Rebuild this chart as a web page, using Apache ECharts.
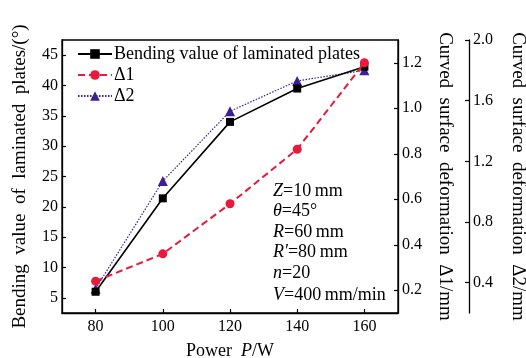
<!DOCTYPE html>
<html>
<head>
<meta charset="utf-8">
<script src="https://cdn.jsdelivr.net/npm/echarts@6/dist/echarts.min.js"></script>
<style>
  html, body { margin: 0; padding: 0; background: #fff; }
  #chart { width: 526px; height: 358px; }
</style>
</head>
<body>
<div id="chart"></div>
<script>
// Laser power (W)
const power = [80, 100, 120, 140, 160];
// Bending value of laminated plates (degrees)
const bending = [6.0, 21.4, 34.0, 39.5, 43.1];
// Curved surface deformation Δ1 (mm)
const delta1 = [0.24, 0.36, 0.58, 0.82, 1.20];
// Curved surface deformation Δ2 (mm)
const delta2 = [0.36, 1.07, 1.53, 1.73, 1.80];

// Tick values of each axis
const xTicks = [80, 100, 120, 140, 160];
const bendTicks = [5, 10, 15, 20, 25, 30, 35, 40, 45];
const d1Ticks = [0.2, 0.4, 0.6, 0.8, 1.0, 1.2];
const d2Ticks = [0.4, 0.8, 1.2, 1.6, 2.0];

// Process parameters listed inside the plot
const params = [
  ['Z', '=10\u2009mm'],
  ['\u03b8', '=45\u00b0'],
  ['R', '=60\u2009mm'],
  ["R\u2032", '=80\u2009mm'],
  ['n', '=20'],
  ['V', '=400\u2009mm/min']
];

const SERIF = '"Liberation Serif", "Times New Roman", serif';
const RED = '#e8193c';
const PURPLE = '#3c1f92';

const pairs = (ys) => power.map((p, i) => [p, ys[i]]);
const fmt1 = (v) => v.toFixed(1);

const baseAxis = {
  axisLine: { show: true, lineStyle: { color: '#000', width: 1.3 } },
  axisTick: { show: true, inside: true, length: 4, lineStyle: { color: '#000', width: 1.2 } },
  axisLabel: { color: '#000', fontFamily: SERIF, fontSize: 16, margin: 4 },
  splitLine: { show: false },
  nameTextStyle: { color: '#000', fontFamily: SERIF, fontSize: 19 }
};

const chart = echarts.init(document.getElementById('chart'), null, { renderer: 'canvas' });

chart.setOption({
  animation: false,
  backgroundColor: '#fff',
  grid: {
    left: 62, right: 128, top: 40, bottom: 45,
    outerBoundsMode: 'none',
    show: true, borderColor: '#000', borderWidth: 1.3, backgroundColor: 'transparent'
  },
  legend: {
    orient: 'vertical',
    left: 72,
    top: 40,
    itemWidth: 34,
    itemHeight: 12,
    itemGap: 3,
    textStyle: { color: '#000', fontFamily: SERIF, fontSize: 18, padding: [0, 0, 0, -3] },
    data: ['Bending value of laminated plates', '\u03941', '\u03942']
  },
  xAxis: {
    ...baseAxis,
    type: 'value',
    min: 70,
    max: 170,
    name: 'Power  {i|P}/W',
    nameLocation: 'middle',
    nameGap: 29,
    nameTextStyle: { ...baseAxis.nameTextStyle, fontSize: 18, rich: { i: { fontStyle: 'italic', fontFamily: SERIF, fontSize: 18 } } },
    axisTick: { ...baseAxis.axisTick, customValues: xTicks },
    axisLabel: { ...baseAxis.axisLabel, customValues: xTicks, margin: 6 }
  },
  yAxis: [
    {
      ...baseAxis,
      type: 'value',
      position: 'left',
      min: 2.5,
      max: 47.5,
      name: 'Bending  value  of  laminated  plates/(\u00b0)',
      nameLocation: 'middle',
      nameRotate: 90,
      nameGap: 32,
      axisTick: { ...baseAxis.axisTick, customValues: bendTicks },
      axisLabel: { ...baseAxis.axisLabel, customValues: bendTicks }
    },
    {
      ...baseAxis,
      type: 'value',
      position: 'right',
      min: 0.1,
      max: 1.3,
      name: 'Curved  surface  deformation  \u03941/mm',
      nameLocation: 'middle',
      nameRotate: -90,
      nameGap: 37,
      axisTick: { ...baseAxis.axisTick, customValues: d1Ticks },
      axisLabel: { ...baseAxis.axisLabel, customValues: d1Ticks, formatter: fmt1 }
    },
    {
      ...baseAxis,
      type: 'value',
      position: 'right',
      offset: 71,
      min: 0.2,
      max: 2.0,
      name: 'Curved  surface  deformation  \u03942/mm',
      nameLocation: 'middle',
      nameRotate: -90,
      nameGap: 39,
      axisTick: { ...baseAxis.axisTick, customValues: d2Ticks },
      axisLabel: { ...baseAxis.axisLabel, customValues: d2Ticks, formatter: fmt1 }
    }
  ],
  series: [
    {
      name: 'Bending value of laminated plates',
      type: 'line',
      yAxisIndex: 0,
      data: pairs(bending),
      symbol: 'rect',
      symbolSize: 8,
      lineStyle: { color: '#000', width: 1.6 },
      itemStyle: { color: '#000' },
      z: 3
    },
    {
      name: '\u03941',
      type: 'line',
      yAxisIndex: 1,
      data: pairs(delta1),
      symbol: 'circle',
      symbolSize: 9,
      lineStyle: { color: RED, width: 2, type: [7, 4] },
      itemStyle: { color: RED },
      z: 4
    },
    {
      name: '\u03942',
      type: 'line',
      yAxisIndex: 2,
      data: pairs(delta2),
      symbol: 'triangle',
      symbolSize: 10,
      lineStyle: { color: PURPLE, width: 1.2, type: [1.5, 1.5] },
      itemStyle: { color: PURPLE },
      z: 2
    }
  ],
  graphic: params.map((p, i) => ({
    type: 'text',
    left: 273,
    top: 182 + i * 20.5 + (i === 5 ? 2 : 0),
    style: {
      text: '{i|' + p[0] + '}{n|' + p[1] + '}',
      rich: {
        i: { fontFamily: SERIF, fontStyle: 'italic', fontSize: 18, fill: '#000' },
        n: { fontFamily: SERIF, fontSize: 18, fill: '#000' }
      }
    }
  }))
});
</script>
</body>
</html>
